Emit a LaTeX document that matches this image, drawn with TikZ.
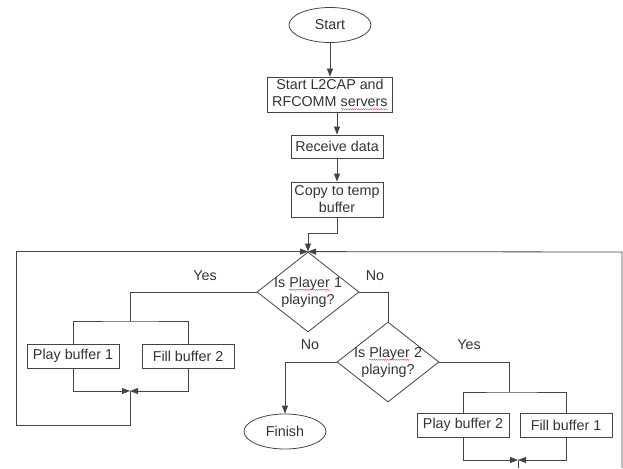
\documentclass[tikz,border=0pt]{standalone}
\usepackage{fontspec}
\setmainfont{Liberation Sans}
\usetikzlibrary{arrows.meta,shapes.geometric,decorations.pathmorphing}
\definecolor{ln}{HTML}{444444}
\definecolor{tx}{HTML}{333333}
\newcommand\spellwave[1]{\tikz[baseline=(sw.base)]{\node[rectangle,draw=none,inner sep=0pt,outer sep=0pt,minimum width=0pt,minimum height=0pt] (sw) {#1}; \draw[red!80, line width=0.4pt, decorate, decoration={snake,amplitude=0.5pt,segment length=2.2pt}] ([yshift=-2.6pt]sw.base west) -- ([yshift=-2.6pt]sw.base east);}}
\tikzset{
  every node/.style={font=\fontsize{14.3}{17}\selectfont, text=tx},
  box/.style={draw=ln, line width=0.8pt, rectangle, inner sep=0pt, align=center},
  oval/.style={draw=ln, line width=0.8pt, ellipse, inner sep=0pt, minimum width=82pt, minimum height=35pt},
  dia/.style={draw=ln, line width=0.8pt, diamond, inner sep=0pt, minimum width=102pt, minimum height=80pt},
  lab/.style={inner sep=0pt},
  conn/.style={draw=ln, line width=0.8pt},
  arr/.style={conn, -{Triangle[length=8pt,width=6pt]}}
}
\begin{document}
\begin{tikzpicture}[x=1pt,y=-1pt]
\useasboundingbox (0,0) rectangle (623,468);
% nodes
\node[oval] (start) at (330,25) {Start};
\node[box, minimum width=125pt, minimum height=35pt] (l2cap) at (330,94.5) {Start L2CAP and\\RFCOMM \spellwave{servers}};
\node[box, minimum width=92pt, minimum height=23pt] (recv) at (337,146.5) {Receive data};
\node[box, minimum width=92pt, minimum height=35pt] (copy) at (337,199.5) {Copy to temp\\buffer};
\node[dia] (d1) at (308,292) {};
\node[lab, align=center] (d1t) at (308,292) {Is \spellwave{Player} 1\\playing?};
\node[dia] (d2) at (388,362) {};
\node[lab, align=center] (d2t) at (388,362) {Is \spellwave{Player} 2\\playing?};
\node[box, minimum width=92pt, minimum height=24pt] (pb1) at (73,356) {Play buffer 1};
\node[box, minimum width=92pt, minimum height=24pt] (fb2) at (188,356) {Fill buffer 2};
\node[box, minimum width=92pt, minimum height=24pt] (pb2) at (463,425) {Play buffer 2};
\node[box, minimum width=92pt, minimum height=24pt] (fb1) at (566,425) {Fill buffer 1};
\node[oval] (finish) at (285,431.5) {Finish};
\node[lab] (yes1) at (205,276) {Yes};
\node[lab] (no1) at (375,276) {No};
\node[lab] (no2) at (310,345) {No};
\node[lab] (yes2) at (469,345) {Yes};
% helper coordinates
\coordinate (c1) at (337,233);
\coordinate (c2) at (308,233);
\coordinate (sp1) at (130,321);
\coordinate (m1) at (130,391);
\coordinate (lb) at (16,425);
\coordinate (sp2) at (509,392);
\coordinate (m2) at (518,460);
\coordinate (bot) at (518,468);
\coordinate (rb) at (622,468);
\coordinate (rt) at (622,252);
% connectors
\draw[arr] (start) -- (l2cap);
\draw[arr] (recv.north |- l2cap.south) -- (recv.north);
\draw[arr] (recv) -- (copy);
\draw[arr] (copy.south) -- (c1) -- (c2) -- (d1.north);
\draw[conn] (d1.west) -| (sp1);
\draw[conn] (pb1.north) |- (sp1) -| (fb2.north);
\draw[arr] (pb1.south) |- (m1);
\draw[arr] (fb2.south) |- (m1);
\draw[arr] (m1) |- (lb) |- (d1.north);
\draw[arr] (rb) -- (rt) -- (d1.north);
\draw[conn] (d1.east) -| (d2.north);
\draw[arr] (d2.west) -| (finish.north);
\draw[conn] (d2.east) -| (sp2);
\draw[conn] (pb2.north) |- (sp2) -| (fb1.north);
\draw[arr] (pb2.south) |- (m2);
\draw[arr] (fb1.south) |- (m2);
\draw[conn] (m2) -- (bot);
\end{tikzpicture}
\end{document}
